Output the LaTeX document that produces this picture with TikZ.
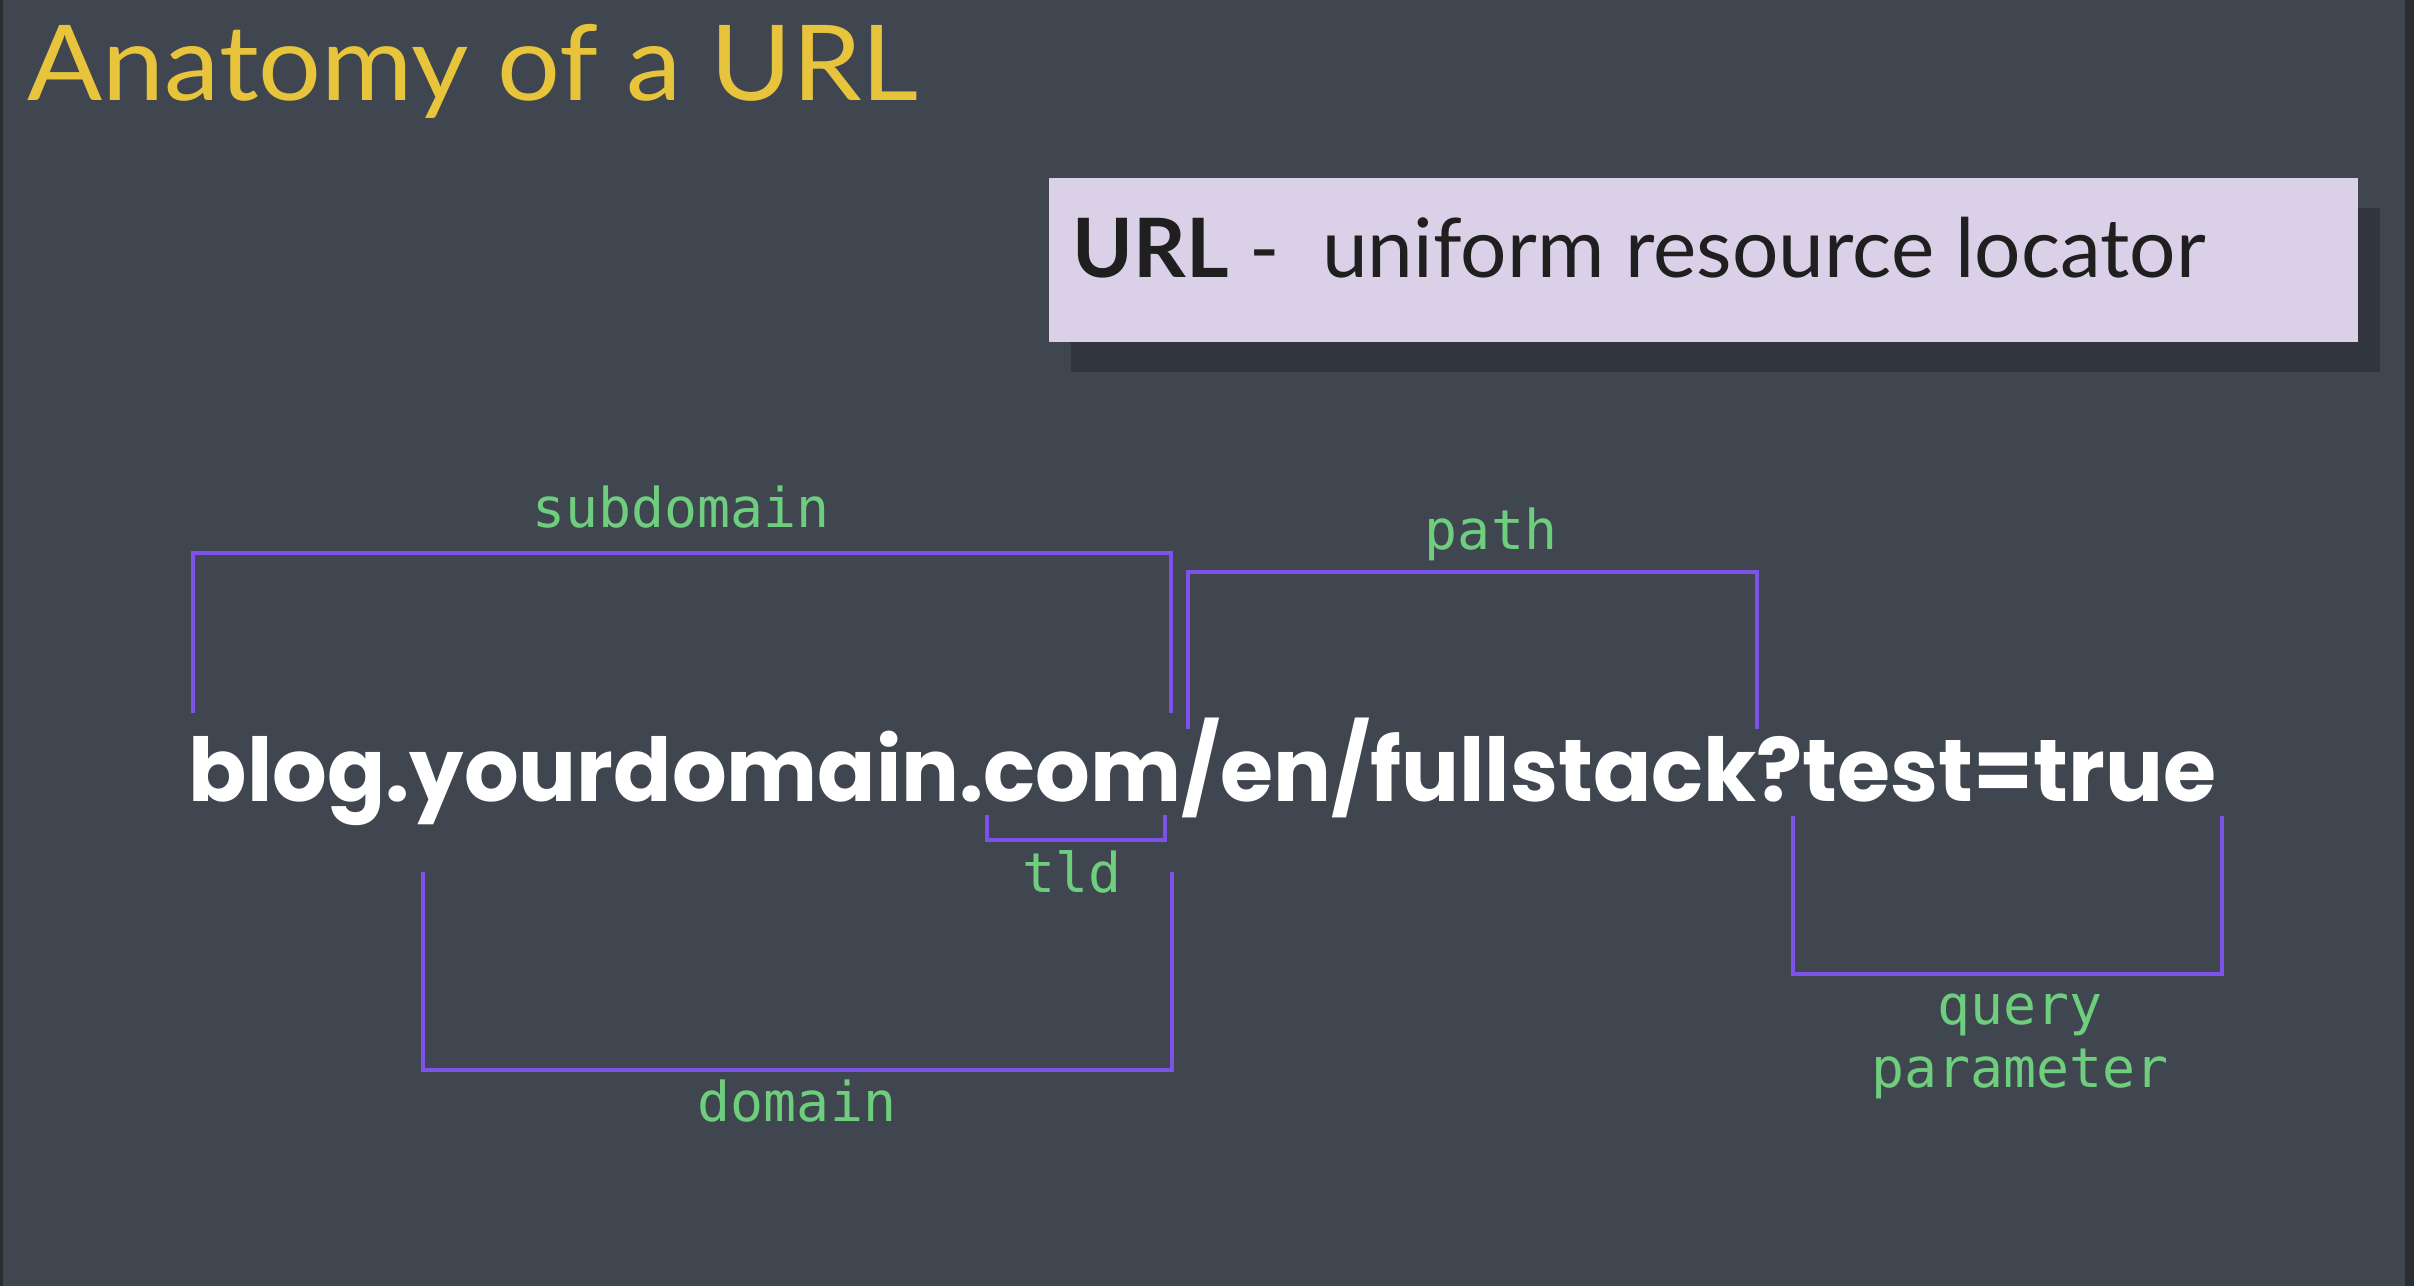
\documentclass[tikz,border=0pt]{standalone}
\usepackage{fontspec}
\usepackage{tikz}
\usetikzlibrary{shadows}
\newfontfamily\titlefont[FakeStretch=1.06]{Lato}
\newfontfamily\deffont{Lato}
\newfontfamily\urlfont[FakeStretch=0.978]{Poppins}
\newfontfamily\labelfont{DejaVu Sans Mono}
\definecolor{bgslate}{RGB}{63,70,80}
\definecolor{edgedark}{RGB}{42,45,50}
\definecolor{titleyellow}{RGB}{232,196,60}
\definecolor{boxlilac}{RGB}{218,208,232}
\definecolor{shadowslate}{RGB}{49,54,62}
\definecolor{labelgreen}{RGB}{110,206,126}
\definecolor{bracketpurple}{RGB}{124,82,232}
\tikzset{
  bracket/.style={draw=bracketpurple, line width=1.1pt},
  partlabel/.style={
    font=\labelfont\fontsize{15.6pt}{18pt}\selectfont,
    text=labelgreen,
    align=center,
    anchor=base,
    inner sep=0pt},
  urltext/.style={
    font=\urlfont\bfseries\fontsize{25pt}{30pt}\selectfont,
    text=white,
    anchor=base west,
    inner sep=0pt},
  defbox/.style={
    rectangle,
    fill=boxlilac,
    minimum width=13.09cm,
    minimum height=1.64cm,
    anchor=north west,
    drop shadow={shadow xshift=0.22cm, shadow yshift=-0.3cm, fill=shadowslate, opacity=1}},
}
\begin{document}
\begin{tikzpicture}[x=0.01cm, y=-0.01cm]
\useasboundingbox (0,0) rectangle (2414,1286);
\fill[bgslate] (0,0) rectangle (2414,1286);
\fill[edgedark] (0,0) rectangle (3,1286);
\fill[edgedark] (2405,0) rectangle (2414,1286);
\node[anchor=base west, inner sep=0pt, text=titleyellow,
      font=\titlefont\fontsize{29.8pt}{34pt}\selectfont] (title) at (27,101) {Anatomy of a URL};
% definition box
\node[defbox] (urlbox) at (1048,177) {};
\node[anchor=base west, inner sep=0pt, text=black!88,
      font=\deffont\fontsize{23.3pt}{28pt}\selectfont] (urldef) at (1072,278) {\textbf{URL} -~ uniform resource locator};
\node[urltext] (url) at (188,802) {blog.yourdomain.com/en/fullstack?test=true};
% brackets above the url
\foreach \name/\txt/\xa/\xb/\yt/\yb/\lx/\ly in {subdomain/subdomain/193/1171/553/713/681/528,
    path/path/1188/1757/572/729/1491/550}{
    \draw[bracket] (\xa,\yb) -- (\xa,\yt) -- (\xb,\yt) -- (\xb,\yb);
    \node[partlabel] (lbl-\name) at (\lx,\ly) {\txt};
    }
% brackets below the url
\foreach \name/\txt/\xa/\xb/\yt/\yb/\lx/\ly in {tld/tld/987/1165/815/840/1072/893,
    domain/domain/423/1172/872/1070/797/1122,
    query/{query\\parameter}/1793/2222/816/974/2020/1088}{
    \draw[bracket] (\xa,\yt) -- (\xa,\yb) -- (\xb,\yb) -- (\xb,\yt);
    \node[partlabel] (lbl-\name) at (\lx,\ly) {\txt};
    }
\end{tikzpicture}
\end{document}
